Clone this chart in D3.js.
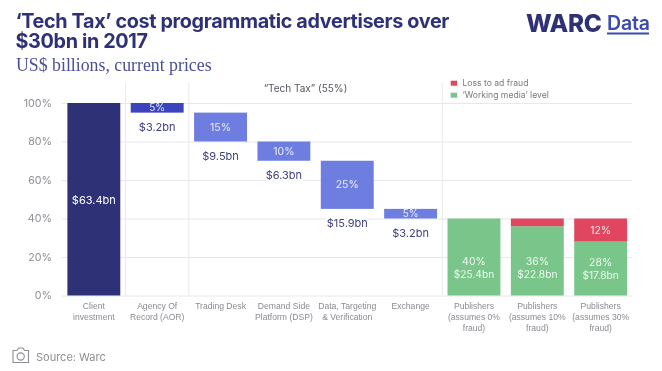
<!DOCTYPE html>
<html>
<head>
<meta charset="utf-8">
<script src="https://cdn.jsdelivr.net/npm/d3@7"></script>
<style>
  html, body { margin: 0; padding: 0; background: #fff; }
  svg { display: block; font-family: Inter, "Noto Sans", sans-serif; filter: blur(0.35px); }
</style>
</head>
<body>
<svg id="chart"></svg>
<script>
// values (% of client investment)
const categories = ['client', 'aor', 'desk', 'dsp', 'data', 'exchange', 'pub0', 'pub10', 'pub30'];
const categoryLabels = [
  ['Client', 'investment'],
  ['Agency Of', 'Record (AOR)'],
  ['Trading Desk'],
  ['Demand Side', 'Platform (DSP)'],
  ['Data, Targeting', '& Verification'],
  ['Exchange'],
  ['Publishers', '(assumes 0%', 'fraud)'],
  ['Publishers', '(assumes 10%', 'fraud)'],
  ['Publishers', '(assumes 30%', 'fraud)']
];
const clientShare = [100];
const taxCategories = ['aor', 'desk', 'dsp', 'data', 'exchange'];
const taxShares = [5, 15, 10, 25, 5];
const taxLabels = ['$3.2bn', '$9.5bn', '$6.3bn', '$15.9bn', '$3.2bn'];
const publisherCategories = ['pub0', 'pub10', 'pub30'];
const workingShares = [40, 36, 28];
const fraudShares = [0, 4, 12];
const workingMoney = ['$25.4bn', '$22.8bn', '$17.8bn'];
const yTicks = [0, 20, 40, 60, 80, 100];
const legendLabels = ['Loss to ad fraud', "\u2018Working media\u2019 level"];

const width = 662, height = 371;
const navy = '#2e3176', mid = '#3b43bf', blue = '#6d7ee0', green = '#79c58a', red = '#e0465f';

const svg = d3.select('#chart').attr('width', width).attr('height', height);

const x = d3.scaleBand().domain(categories).range([62, 632.5]).paddingInner(0.165).paddingOuter(0.085);
const y = d3.scaleLinear().domain([0, 100]).range([295.5, 103]);

// titles
svg.append('text').attr('x', 15.5).attr('y', 27.5)
  .style('font-size', '19.8px').style('font-weight', 700).style('fill', navy).style('letter-spacing', '-0.35px')
  .text('\u2018Tech Tax\u2019 cost programmatic advertisers over');
svg.append('text').attr('x', 15.5).attr('y', 48)
  .style('font-size', '19.8px').style('font-weight', 700).style('fill', navy).style('letter-spacing', '-0.35px')
  .text('$30bn in 2017');
svg.append('text').attr('x', 16).attr('y', 71)
  .style('font-family', '"Liberation Serif", serif').style('font-size', '17.8px').style('fill', '#4a4f95')
  .text('US$ billions, current prices');

// logo
svg.append('text').attr('x', 526).attr('y', 32)
  .style('font-size', '24.3px').style('font-weight', 800).style('fill', navy).style('letter-spacing', '-0.3px').text('WARC');
svg.append('text').attr('x', 607).attr('y', 29.5)
  .style('font-size', '19.5px').style('font-weight', 600).style('fill', '#3b4ab0').style('letter-spacing', '-0.2px').text('Data');
svg.append('line').attr('x1', 607).attr('x2', 649).attr('y1', 33.5).attr('y2', 33.5)
  .style('stroke', '#3b4ab0').style('stroke-width', 2);

// y axis + grid
const yAxis = svg.append('g').attr('transform', 'translate(62,0)')
  .call(d3.axisLeft(y).tickValues(yTicks).tickFormat(d => d + '%').tickSize(-570.5).tickPadding(10));
yAxis.select('.domain').remove();
yAxis.selectAll('.tick line').style('stroke', '#e8e8ec').style('stroke-width', 1);
yAxis.selectAll('.tick text').style('font-family', 'Inter').style('font-size', '10.7px').style('fill', '#8d8d95');

// separators above the grid
[['client', 'aor'], ['aor', 'desk'], ['exchange', 'pub0']].forEach(p => {
  const sepX = (x(p[0]) + x.bandwidth() + x(p[1])) / 2;
  svg.append('line').attr('x1', sepX).attr('x2', sepX).attr('y1', 83).attr('y2', y(0))
    .style('stroke', '#eaeaee').style('stroke-width', 1);
});

// x axis labels
const xAxis = svg.append('g').attr('transform', `translate(0,${y(0)})`)
  .call(d3.axisBottom(x).tickSize(0).tickPadding(0).tickFormat(''));
xAxis.select('.domain').remove();
xAxis.selectAll('.tick text').remove();
xAxis.selectAll('.tick').each(function(d, i) {
  const label = d3.select(this).append('text').attr('text-anchor', 'middle')
    .style('font-size', '8.6px').style('fill', '#8a8a92');
  categoryLabels[i].forEach((line, j) => {
    label.append('tspan').attr('x', 0).attr('y', 13.5 + j * 10.9).text(line);
  });
});

// client bar
svg.append('rect').attr('x', x('client')).attr('y', y(clientShare[0]))
  .attr('width', x.bandwidth()).attr('height', y(0) - y(clientShare[0])).style('fill', navy);
svg.append('text').attr('x', x('client') + x.bandwidth() / 2).attr('y', 204).attr('text-anchor', 'middle')
  .style('font-size', '11px').style('fill', '#fff').text('$63.4bn');

// waterfall of tax steps
let stepTop = clientShare[0];
taxCategories.forEach((c, i) => {
  const bottom = stepTop - taxShares[i];
  const cx = x(c) + x.bandwidth() / 2;
  svg.append('rect').attr('x', x(c)).attr('y', y(stepTop))
    .attr('width', x.bandwidth()).attr('height', y(bottom) - y(stepTop))
    .style('fill', i === 0 ? mid : blue);
  svg.append('text').attr('x', cx).attr('y', (y(stepTop) + y(bottom)) / 2 + 3.6).attr('text-anchor', 'middle')
    .style('font-size', taxShares[i] === 5 ? '10px' : '10.5px').style('fill', '#e9ebfb').text(taxShares[i] + '%');
  svg.append('text').attr('x', cx).attr('y', y(bottom) + 18).attr('text-anchor', 'middle')
    .style('font-size', '11px').style('fill', '#3f4180')
    .style('paint-order', 'stroke').style('stroke', '#fff').style('stroke-width', 4)
    .text(taxLabels[i]);
  stepTop = bottom;
});

// publishers
publisherCategories.forEach((c, i) => {
  const cx = x(c) + x.bandwidth() / 2;
  svg.append('rect').attr('x', x(c)).attr('y', y(workingShares[i]))
    .attr('width', x.bandwidth()).attr('height', y(0) - y(workingShares[i])).style('fill', green);
  if (fraudShares[i] > 0) {
    svg.append('rect').attr('x', x(c)).attr('y', y(workingShares[i] + fraudShares[i]))
      .attr('width', x.bandwidth()).attr('height', y(workingShares[i]) - y(workingShares[i] + fraudShares[i]))
      .style('fill', red);
  }
  if (fraudShares[i] > 10) {
    svg.append('text').attr('x', cx).attr('y', y(workingShares[i] + fraudShares[i] / 2) + 4).attr('text-anchor', 'middle')
      .style('font-size', '10.5px').style('fill', '#fbe3e7').text(fraudShares[i] + '%');
  }
  const shift = i === 2 ? 1 : 0;
  svg.append('text').attr('x', cx).attr('y', 265 + shift).attr('text-anchor', 'middle')
    .style('font-size', '10.5px').style('fill', '#eef8f0').text(workingShares[i] + '%');
  svg.append('text').attr('x', cx).attr('y', 277.8 + shift).attr('text-anchor', 'middle')
    .style('font-size', '10.2px').style('fill', '#eef8f0').text(workingMoney[i]);
});

// tech tax heading
svg.append('text').attr('x', 305.5).attr('y', 92).attr('text-anchor', 'middle')
  .style('font-size', '10px').style('fill', '#55555f').text('\u201CTech Tax\u201D (55%)');

// legend
[red, green].forEach((col, i) => {
  svg.append('rect').attr('x', 450.7).attr('y', 80.7 + i * 12).attr('width', 6.5).attr('height', 5).style('fill', col);
  svg.append('text').attr('x', 462.5).attr('y', 85.7 + i * 12.3)
    .style('font-size', '8.6px').style('fill', '#77777f').text(legendLabels[i]);
});

// source + camera icon
const cam = svg.append('g').attr('transform', 'translate(12.5,347.5)').style('fill', 'none').style('stroke', '#8d8d92').style('stroke-width', 1.1);
cam.append('path').attr('d', 'M0.5 3 H4.5 L6 0.5 H10.5 L12 3 H16 V15 H0.5 Z');
cam.append('circle').attr('cx', 8.2).attr('cy', 9).attr('r', 3.6);
svg.append('text').attr('x', 36).attr('y', 360.7)
  .style('font-size', '11px').style('fill', '#8d8d92').text('Source: Warc');
</script>
</body>
</html>
